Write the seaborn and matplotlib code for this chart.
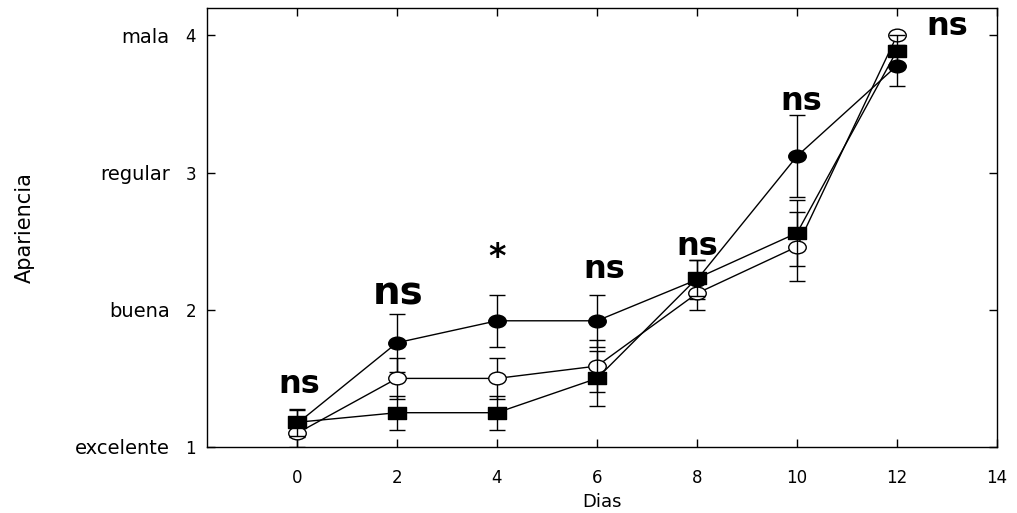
import numpy as np
import pandas as pd
import matplotlib
matplotlib.use("Agg")
import matplotlib.pyplot as plt
import matplotlib.transforms as mtransforms
from matplotlib.path import Path
import seaborn as sns

# ---------------- data ----------------
days = [0, 2, 4, 6, 8, 10, 12]

filled_circle = [1.17, 1.76, 1.92, 1.92, 2.22, 3.12, 3.78]
filled_circle_err = [0.10, 0.21, 0.19, 0.19, 0.14, 0.30, 0.15]

open_circle = [1.10, 1.50, 1.50, 1.59, 2.12, 2.46, 4.00]
open_circle_err = [0.10, 0.15, 0.15, 0.19, 0.12, 0.25, 0.00]

filled_square = [1.18, 1.25, 1.25, 1.50, 2.23, 2.56, 3.89]
filled_square_err = [0.10, 0.125, 0.125, 0.20, 0.13, 0.24, 0.11]

y_ticks = [1, 2, 3, 4]
y_words = ["excelente", "buena", "regular", "mala"]
x_ticks = [0, 2, 4, 6, 8, 10, 12, 14]

sig_labels = ["ns", "ns", "*", "ns", "ns", "ns", "ns"]

# ---------------- style ----------------
sns.set_style("ticks")
plt.rcParams["font.family"] = ["DejaVu Sans"]
plt.rcParams["text.color"] = "black"
plt.rcParams["axes.labelcolor"] = "black"
plt.rcParams["xtick.color"] = "black"
plt.rcParams["ytick.color"] = "black"

fig = plt.figure(figsize=(10.17, 5.13), dpi=100)
ax = fig.add_axes([207 / 1017, 1 - 447 / 513, 790 / 1017, 439 / 513])

# elliptical markers (the reference is horizontally stretched)
asp = 1.38
circ = Path.unit_circle()
ellipse = Path(circ.vertices * np.array([1.0, 1.0 / asp]), circ.codes)
rect = Path([(-1, -1 / asp), (1, -1 / asp), (1, 1 / asp), (-1, 1 / asp), (-1, -1 / asp)],
            [Path.MOVETO, Path.LINETO, Path.LINETO, Path.LINETO, Path.CLOSEPOLY])

series = [
    ("filled_circle", filled_circle, filled_circle_err, ellipse, "black"),
    ("open_circle", open_circle, open_circle_err, ellipse, "white"),
    ("filled_square", filled_square, filled_square_err, rect, "black"),
]

z = 2.0
for name, vals, errs, mk, face in series:
    ax.errorbar(days, vals, yerr=errs, fmt="none", ecolor="black",
                elinewidth=1.0, capsize=5.6, capthick=1.0, zorder=z)
    df = pd.DataFrame({"day": days, "value": vals})
    sns.lineplot(data=df, x="day", y="value", ax=ax, color="black",
                 linewidth=1.0, marker=mk, markersize=12.6,
                 markerfacecolor=face, markeredgecolor="black",
                 markeredgewidth=1.0, estimator=None, errorbar=None,
                 sort=False, zorder=z + 0.1)
    z += 0.2

# ---------------- axes ----------------
ax.set_xlim(-1.8, 14)
ax.set_ylim(1, 4.2)
ax.set_xticks(x_ticks)
ax.set_xticklabels([str(t) for t in x_ticks], fontsize=12)
ax.set_yticks(y_ticks)
ax.set_yticklabels([str(t) for t in y_ticks], fontsize=12)
ax.tick_params(axis="both", direction="in", length=6, width=1.0,
               top=True, right=True, color="black", labelcolor="black")
ax.tick_params(axis="y", pad=8)
ax.tick_params(axis="x", pad=16)
for s in ax.spines.values():
    s.set_visible(True)
    s.set_linewidth(1.0)
    s.set_color("black")

trans = mtransforms.blended_transform_factory(ax.transAxes, ax.transData)
for yv, w in zip(y_ticks, y_words):
    ax.text(-0.047, yv, w, transform=trans, ha="right", va="center_baseline",
            fontsize=14, color="black")

ax.set_xlabel("Dias", fontsize=13, labelpad=4, color="black")
ax.set_ylabel("Apariencia", fontsize=15, color="black")
ax.yaxis.set_label_coords(-0.218, 0.5)

# significance labels
sig_x = [0.04, 2.02, 4.0, 6.14, 8.01, 10.08, 13.0]
sig_y = [1.394, 2.036, 2.38, 2.233, 2.40, 3.458, 4.005]
sig_size = [23, 28, 24, 23, 23, 23, 23]
for lab, xx, yy, fs in zip(sig_labels, sig_x, sig_y, sig_size):
    ax.text(xx, yy, lab, ha="center", va="center" if lab == "*" else "baseline",
            fontsize=fs, fontweight="bold", zorder=10, color="black")

fig.savefig("out.png", dpi=100)
